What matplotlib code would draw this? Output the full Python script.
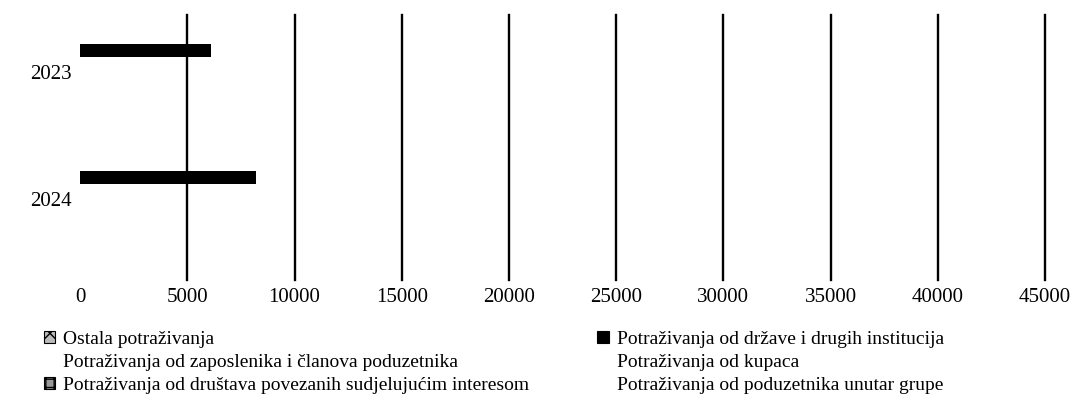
import matplotlib
matplotlib.use("Agg")
import matplotlib.pyplot as plt
import numpy as np

plt.rcParams['font.family'] = ['Liberation Serif', 'DejaVu Serif']

years = ["2023", "2024"]
series = [
    "Ostala potraživanja",
    "Potraživanja od zaposlenika i članova poduzetnika",
    "Potraživanja od društava povezanih sudjelujućim interesom",
    "Potraživanja od države i drugih institucija",
    "Potraživanja od kupaca",
    "Potraživanja od poduzetnika unutar grupe",
]
values = {
    "Ostala potraživanja": [0, 0],
    "Potraživanja od zaposlenika i članova poduzetnika": [0, 0],
    "Potraživanja od društava povezanih sudjelujućim interesom": [0, 0],
    "Potraživanja od države i drugih institucija": [6100, 8200],
    "Potraživanja od kupaca": [0, 0],
    "Potraživanja od poduzetnika unutar grupe": [0, 0],
}
xticks = np.arange(0, 45001, 5000)

# look of each series (scan kept only some of the legend keys)
faces = ["#bbbbbb", "white", "#999999", "black", "white", "white"]
hatches = ["xx", None, "++", None, None, None]
edges = ["black", "white", "black", "black", "white", "white"]

fig = plt.figure(figsize=(10.84, 4.17), dpi=100)
ax = fig.add_axes([0.074, 0.329, 0.89, 0.636])

y = np.arange(len(years))
left = np.zeros(len(years))
handles = []
for name, fc, h, ec in zip(series, faces, hatches, edges):
    vals = np.array(values[name], dtype=float)
    ax.barh(y, vals, left=left, height=0.1, color="black", zorder=3)
    left += vals
    handles.append(plt.Rectangle((0, 0), 1, 1, facecolor=fc, hatch=h,
                                 edgecolor=ec, linewidth=0.8))

ax.set_xlim(0, 45000)
ax.set_ylim(1.8, -0.28)
ax.set_xticks(xticks)
ax.set_xticklabels([str(t) for t in xticks])
ax.set_yticks(y + 0.17)
ax.set_yticklabels(years)
ax.tick_params(length=0, labelsize=15, pad=6)
ax.tick_params(axis='y', pad=6)
ax.grid(axis='x', color='black', linewidth=1.7, zorder=2)
for gl in ax.get_xgridlines():
    gl.set_clip_on(False)
ax.get_xgridlines()[0].set_visible(False)
for s in ax.spines.values():
    s.set_visible(False)

fig.legend(handles, series, loc='upper left', bbox_to_anchor=(0.033, 0.225),
           ncol=2, frameon=False, fontsize=14, handlelength=0.6,
           handleheight=0.6, handletextpad=0.4, columnspacing=3.5,
           labelspacing=0.3, borderaxespad=0)

fig.savefig("out.png", dpi=100)
